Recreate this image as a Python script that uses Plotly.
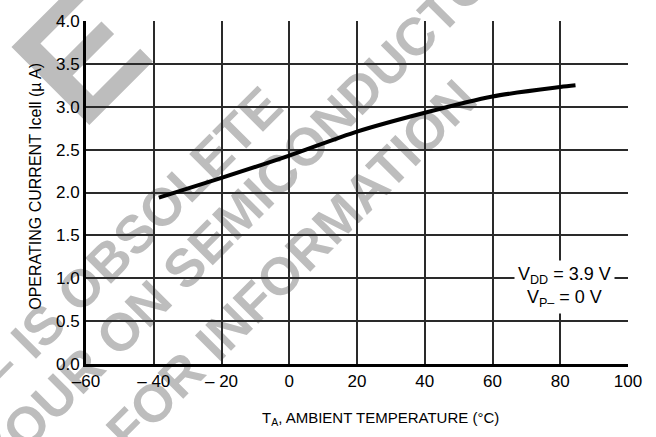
import plotly.graph_objects as go

# Operating current vs. ambient temperature
temp_c = [-38.5, -20, 0, 20, 40, 60, 80, 84.5]
icell_ua = [1.94, 2.17, 2.43, 2.71, 2.93, 3.12, 3.23, 3.25]

x_ticks = [-60, -40, -20, 0, 20, 40, 60, 80, 100]
x_tick_text = ["–60", "– 40", "– 20", "0", "20", "40", "60", "80", "100"]
y_ticks = [0.0, 0.5, 1.0, 1.5, 2.0, 2.5, 3.0, 3.5, 4.0]

# Diagonal "obsolete" stamp (text, centre x/y in paper coords, font size)
stamp_lines = [
    ("E", -0.030, 0.930, 160),
    ("– IS OBSOLETE", 0.076, 0.378, 53),
    ("YOUR ON SEMICONDUCTOR", 0.290, 0.474, 53),
    ("FOR INFORMATION", 0.372, 0.300, 53),
]

FONT = "Liberation Sans, Arial, sans-serif"
STAMP_GRAY = "#bdbdbd"

fig = go.Figure()
fig.add_trace(go.Scatter(
    x=temp_c, y=icell_ua, mode="lines",
    line=dict(color="black", width=4, shape="spline", smoothing=0.8),
    hoverinfo="skip", showlegend=False,
))

shapes = []
for text, cx, cy, size in stamp_lines:
    shapes.append(dict(
        type="rect", xref="paper", yref="paper",
        x0=cx - 0.001, x1=cx + 0.001, y0=cy - 0.001, y1=cy + 0.001,
        line=dict(width=0), fillcolor="rgba(0,0,0,0)", layer="below",
        label=dict(text=text, textangle=-45, textposition="middle center",
                   font=dict(family=FONT, size=size, color=STAMP_GRAY, weight="bold")),
    ))

fig.update_layout(
    width=656, height=437,
    margin=dict(l=86, r=28, t=14, b=73),
    paper_bgcolor="white", plot_bgcolor="white",
    font=dict(family=FONT, size=17, color="black"),
    shapes=shapes,
    xaxis=dict(
        range=[-60, 100], tickvals=x_ticks, ticktext=x_tick_text,
        showgrid=True, gridcolor="#2a2a2a", gridwidth=1.5,
        showline=True, linecolor="black", linewidth=3,
        ticks="", zeroline=False, tickfont=dict(size=17),
    ),
    yaxis=dict(
        range=[0, 4], tickvals=y_ticks, tickformat=".1f",
        showgrid=True, gridcolor="#2a2a2a", gridwidth=1.5,
        showline=True, linecolor="black", linewidth=3,
        ticks="", zeroline=False, tickfont=dict(size=17),
    ),
    annotations=[
        dict(text="OPERATING CURRENT Icell (µ A)", xref="paper", yref="paper",
             x=-0.092, y=0.517, textangle=-90, showarrow=False,
             font=dict(size=16), xanchor="center", yanchor="middle"),
        dict(text="T<sub>A</sub>, AMBIENT TEMPERATURE (°C)", xref="paper", yref="paper",
             x=0.543, y=-0.16, showarrow=False, font=dict(size=15),
             xanchor="center", yanchor="middle"),
        dict(text="V<sub>DD</sub> = 3.9 V<br>V<sub>P–</sub> = 0 V", x=81.3, y=0.897,
             xref="x", yref="y", showarrow=False, bgcolor="white",
             font=dict(size=18), borderpad=3, align="center"),
    ],
)

fig.write_html("out.html")
